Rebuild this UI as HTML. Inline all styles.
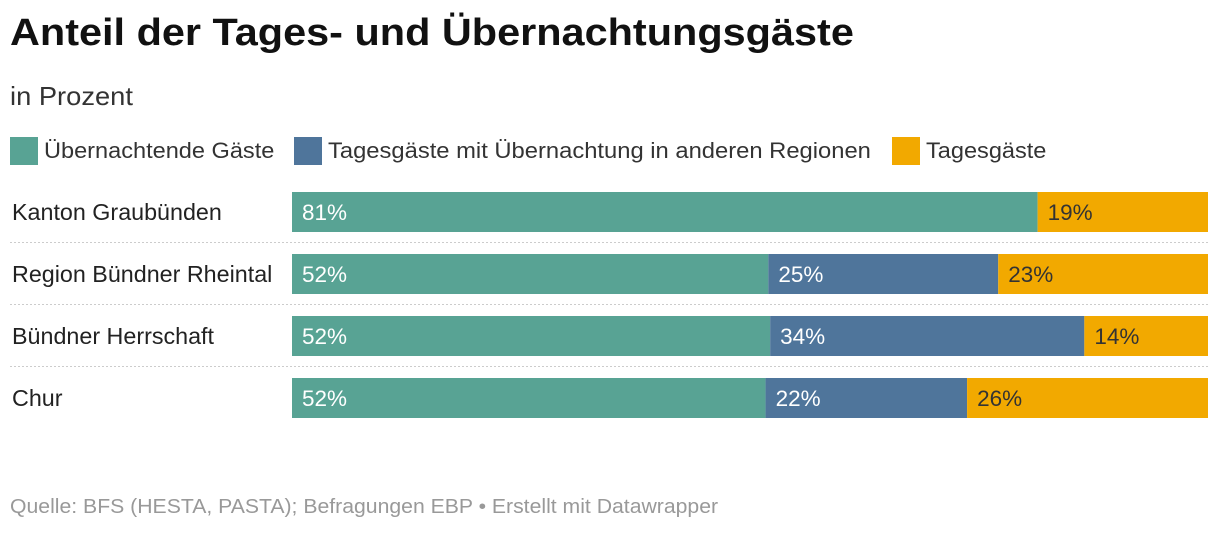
<!DOCTYPE html>
<html><head><meta charset="utf-8"><style>
body{margin:0;width:1220px;height:534px;background:#fff;font-family:"Liberation Sans",sans-serif;position:relative;overflow:hidden}
.t{position:absolute;white-space:nowrap}
</style></head><body>
<div class="t" style="left:10px;top:12px;font-size:38px;font-weight:bold;color:#111;transform:scaleX(1.09);transform-origin:left">Anteil der Tages- und Übernachtungsgäste</div>
<div class="t" style="left:10px;top:81px;font-size:26px;color:#333;transform:scaleX(1.05);transform-origin:left">in Prozent</div>
<div>
<div class="t" style="left:10px;top:137px;font-size:22px;color:#333"><span style="display:inline-block;width:28px;height:28px;background:#58a394;vertical-align:-7px;margin-right:6px"></span><span style="display:inline-block;transform:scaleX(1.07);transform-origin:left">Übernachtende Gäste</span></div>
<div class="t" style="left:294px;top:137px;font-size:22px;color:#333"><span style="display:inline-block;width:28px;height:28px;background:#4f759b;vertical-align:-7px;margin-right:6px"></span><span style="display:inline-block;transform:scaleX(1.08);transform-origin:left">Tagesgäste mit Übernachtung in anderen Regionen</span></div>
<div class="t" style="left:892px;top:137px;font-size:22px;color:#333"><span style="display:inline-block;width:28px;height:28px;background:#f2a900;vertical-align:-7px;margin-right:6px"></span><span style="display:inline-block;transform:scaleX(1.07);transform-origin:left">Tagesgäste</span></div>
</div>
<svg id="chart" width="1220" height="534" style="position:absolute;left:0;top:0" font-family="Liberation Sans, sans-serif"></svg>
<div class="t" style="left:10px;top:496px;font-size:20px;color:#999;transform:scaleX(1.06);transform-origin:left">Quelle: BFS (HESTA, PASTA); Befragungen EBP • Erstellt mit Datawrapper</div>
<script>
const categories=["Kanton Graubünden","Region Bündner Rheintal","Bündner Herrschaft","Chur"];
const uebernachtende=[81.4,52.0,52.2,51.7];
const tagesAndere=[0,25.1,34.3,22.0];
const tages=[18.6,22.9,13.5,26.3];
const labelsU=["81%","52%","52%","52%"];
const labelsA=["","25%","34%","22%"];
const labelsT=["19%","23%","14%","26%"];
const svg=document.getElementById('chart');
const NS="http://www.w3.org/2000/svg";
const x0=292,x1=1208;
function xs(v){return v/100*(x1-x0);}
function rowY(i){return 192+i*62;}
const series=[{v:uebernachtende,l:labelsU,c:"#58a394",tc:"#fff",n:"uebernachtende"},{v:tagesAndere,l:labelsA,c:"#4f759b",tc:"#fff",n:"tagesgaeste-andere"},{v:tages,l:labelsT,c:"#f2a900",tc:"#333",n:"tagesgaeste"}];
categories.forEach((cat,i)=>{
  const y=rowY(i);
  const t=document.createElementNS(NS,'text');
  
  
  t.setAttribute('x',12);t.setAttribute('y',y+28);t.setAttribute('font-size','23.3');t.setAttribute('fill','#222');
  t.textContent=cat;svg.appendChild(t);
  if(i<categories.length-1){
    const ln=document.createElementNS(NS,'line');
    
    
    ln.setAttribute('x1',10);ln.setAttribute('x2',1208);ln.setAttribute('y1',y+50.5);ln.setAttribute('y2',y+50.5);
    ln.setAttribute('stroke','#ccc');ln.setAttribute('stroke-dasharray','2,2');svg.appendChild(ln);
  }
  let cx=x0;
  const tot=series.reduce((s,se)=>s+se.v[i],0);
  series.forEach(se=>{
    const w=xs(se.v[i]/tot*100);
    if(w<=0)return;
    const r=document.createElementNS(NS,'rect');
    
    
    r.setAttribute('x',cx);r.setAttribute('y',y);r.setAttribute('width',w);r.setAttribute('height',40);r.setAttribute('fill',se.c);
    svg.appendChild(r);
    const lt=document.createElementNS(NS,'text');
    
    
    lt.setAttribute('x',cx+10);lt.setAttribute('y',y+28);lt.setAttribute('font-size','22.5');lt.setAttribute('fill',se.tc);
    lt.textContent=se.l[i];svg.appendChild(lt);
    cx+=w;
  });
});
</script>
</body></html>
